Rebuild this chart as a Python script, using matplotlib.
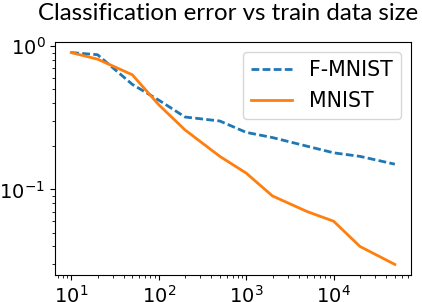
import matplotlib.pyplot as plt

# training set sizes and classification errors
train_size = [10, 20, 50, 100, 200, 500, 1000, 2000, 5000, 10000, 20000, 50000]
err_fmnist = [0.90, 0.87, 0.54, 0.42, 0.32, 0.30, 0.25, 0.23, 0.20, 0.18, 0.17, 0.15]
err_mnist = [0.90, 0.81, 0.63, 0.39, 0.26, 0.17, 0.13, 0.09, 0.07, 0.06, 0.04, 0.03]

fig = plt.figure(figsize=(4.22, 3.02), dpi=100)
ax = fig.add_axes([55 / 422, 27 / 302, 356 / 422, 233 / 302])

ax.plot(train_size, err_fmnist, '--', color='tab:blue', lw=2, dashes=(2.8, 1.2),
        label='F-MNIST')
ax.plot(train_size, err_mnist, '-', color='tab:orange', lw=2, label='MNIST')
ax.set_xscale('log')
ax.set_yscale('log')
ax.tick_params(labelsize=14)
ax.legend(loc='upper right', fontsize=14.8)

fig.text(0.5415, 0.934, 'Classification error vs train data size',
         ha='center', va='baseline', fontsize=17.3, family='Lato')

fig.savefig('out.png', dpi=100)
